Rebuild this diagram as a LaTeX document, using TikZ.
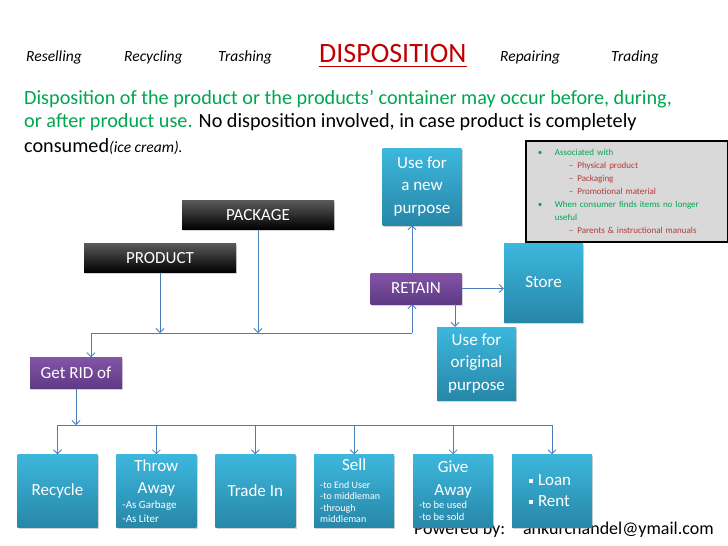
\documentclass[tikz,border=0pt]{standalone}
\usepackage{fontspec}
\setmainfont{Carlito}
\usepackage{xcolor}
\usetikzlibrary{arrows.meta,positioning,shadows}

\definecolor{tealtop}{HTML}{3DB7DD}
\definecolor{tealbot}{HTML}{2787A8}
\definecolor{purptop}{HTML}{8354A6}
\definecolor{purpbot}{HTML}{5F3A86}
\definecolor{linkblue}{HTML}{4A7EBB}
\definecolor{dispgreen}{HTML}{00A650}
\definecolor{dispred}{HTML}{C00000}
\definecolor{subred}{HTML}{B03A3A}
\definecolor{notegray}{HTML}{D9D9D9}

\newcommand{\gbul}[1]{\hspace*{12pt}\makebox[17pt][l]{\textcolor{dispgreen}{\textbullet}}\textcolor{dispgreen}{#1}}
\newcommand{\gsub}[1]{\hspace*{43pt}\textcolor{subred}{\textendash\hspace{4pt}#1}}
\newcommand{\sqbul}{\raisebox{3pt}{\rule{4pt}{4pt}}\hspace{5pt}}
% small left-aligned lines inside a box
\newcommand{\sublines}[2]{\parbox[t]{68pt}{#1\raggedright #2}}

\begin{document}
\begin{tikzpicture}[
  x=1pt, y=-1pt,
  hd/.style={font=\fontsize{15.5}{18}\selectfont\itshape, inner sep=0pt, anchor=base west},
  intro/.style={font=\fontsize{20.2}{24}\selectfont, inner sep=0pt, anchor=base west},
  box/.style={rectangle, inner sep=0pt, align=center, text=white,
              font=\fontsize{17}{22.5}\selectfont,
              drop shadow={opacity=0.35, shadow xshift=1.2pt, shadow yshift=-1.5pt}},
  tealbox/.style={box, top color=tealtop, bottom color=tealbot},
  purpbox/.style={box, top color=purptop, bottom color=purpbot, minimum height=31pt},
  blackbox/.style={box, top color=black!65, bottom color=black,
                   minimum width=152pt, minimum height=29pt},
  cell/.style={tealbox, minimum width=80pt, minimum height=73pt},
  note/.style={draw=black, line width=1.8pt, fill=notegray, text width=202pt,
               minimum height=101pt, inner sep=0pt, align=left,
               font=\fontsize{9}{13}\selectfont},
  link/.style={draw=linkblue, line width=0.8pt},
  flow/.style={link, -{Straight Barb[length=4pt,width=8pt]}}
]
\useasboundingbox (0,0) rectangle (728,546);

% heading row
\node[hd] (reselling) at (26,61)  {Reselling};
\node[hd] (recycling) at (124,61) {Recycling};
\node[hd] (trashing)  at (218,61) {Trashing};
\node[hd] (repairing) at (500,61) {Repairing};
\node[hd] (trading)   at (611,61) {Trading};
\node[anchor=base west, inner sep=0pt, text=dispred,
      font=\fontsize{28}{30}\selectfont] (disp) at (319,62) {DISPOSITION};
\draw[dispred, line width=1.6pt] ([yshift=-4.5pt]disp.base west) -- ([yshift=-4.5pt]disp.base east);

% intro text
\node[intro] (introa) at (24,104)   {\textcolor{dispgreen}{Disposition of the product or the products’ container may occur before, during,}};
\node[intro] (introb) at (24,127.5) {\textcolor{dispgreen}{or after product use.} No disposition involved, in case product is completely};
\node[intro] (introc) at (24,152)   {consumed{\fontsize{15.5}{18}\selectfont\itshape(ice cream).}};

% side note
\node[note, anchor=north west] (note) at (525,140) {%
  \gbul{Associated with}\\
  \gsub{Physical product}\\
  \gsub{Packaging}\\
  \gsub{Promotional material}\\
  \gbul{When consumer finds items no longer}\\
  \hspace*{29pt}\textcolor{dispgreen}{useful}\\
  \gsub{Parents \& instructional manuals}};

% footer (sits behind the boxes)
\node[anchor=base west, inner sep=0pt, font=\fontsize{18}{22}\selectfont]
  (powered) at (414,534) {Powered by:\quad ankurchandel@ymail.com};

% upper part
\node[tealbox, minimum width=79pt, minimum height=77pt] (newpurp) at (422,186.5) {Use for\\a new\\purpose};
\node[blackbox] (package) at (258,215) {PACKAGE};
\node[blackbox] (product) at (160,258) {PRODUCT};
\node[purpbox, minimum width=91pt] (retain) at (416,288.5) {RETAIN};
\node[tealbox, minimum width=79pt, minimum height=79pt] (store) at (543.5,282.5) {Store};
\node[tealbox, minimum width=79pt, minimum height=73pt] (origpurp) at (476.5,363.5) {Use for\\original\\purpose};
\node[purpbox, minimum width=92pt] (getrid) at (76,373) {Get RID of};

% bottom row
\node[cell] (recycle) at (57.5,491) {Recycle};
\node[cell, right=18.5pt of recycle] (throw)
  {Throw\\Away\\[-8pt]\sublines{\fontsize{11}{14}\selectfont}{-As Garbage\\-As Liter}};
\node[cell, right=18.5pt of throw] (tradein) {Trade In};
\node[cell, right=18.5pt of tradein] (sell)
  {Sell\\[-5pt]\sublines{\fontsize{10}{11.5}\selectfont}{-to End User\\-to middleman\\-through\\middleman}};
\node[cell, right=18.5pt of sell] (giveaway)
  {Give\\Away\\[-9pt]\sublines{\fontsize{10.5}{12}\selectfont}{-to be used\\-to be sold}};
\node[cell, right=18.5pt of giveaway] (loanrent)
  {\makebox[46pt][l]{\sqbul Loan}\\[-1.5pt]\makebox[46pt][l]{\sqbul Rent}};

% connectors
\coordinate (busL) at (91,333);
\coordinate (busR) at (412,333);
\coordinate (rowbus) at (0,425);
\draw[link] (busL) -- (busR);
\draw[flow] (product.south) -- (product.south |- busL);
\draw[flow] (package.south) -- (package.south |- busL);
\draw[flow] (busL) -- (busL |- getrid.north);
\draw[flow] (busR) -- (busR |- retain.south);
\draw[flow] (busR |- retain.north) -- (busR |- newpurp.south);
\draw[flow] (retain.east) -- (retain.east -| store.west);
\draw[flow] ([xshift=39pt]retain.south) -- ([xshift=39pt]retain.south |- origpurp.north);
\draw[flow] (getrid.south) -- (getrid.south |- rowbus);
\draw[link] (recycle.north |- rowbus) -- (loanrent.north |- rowbus);
\foreach \b in {recycle,throw,tradein,sell,giveaway,loanrent}
  \draw[flow] (\b.north |- rowbus) -- (\b.north);
\end{tikzpicture}
\end{document}
